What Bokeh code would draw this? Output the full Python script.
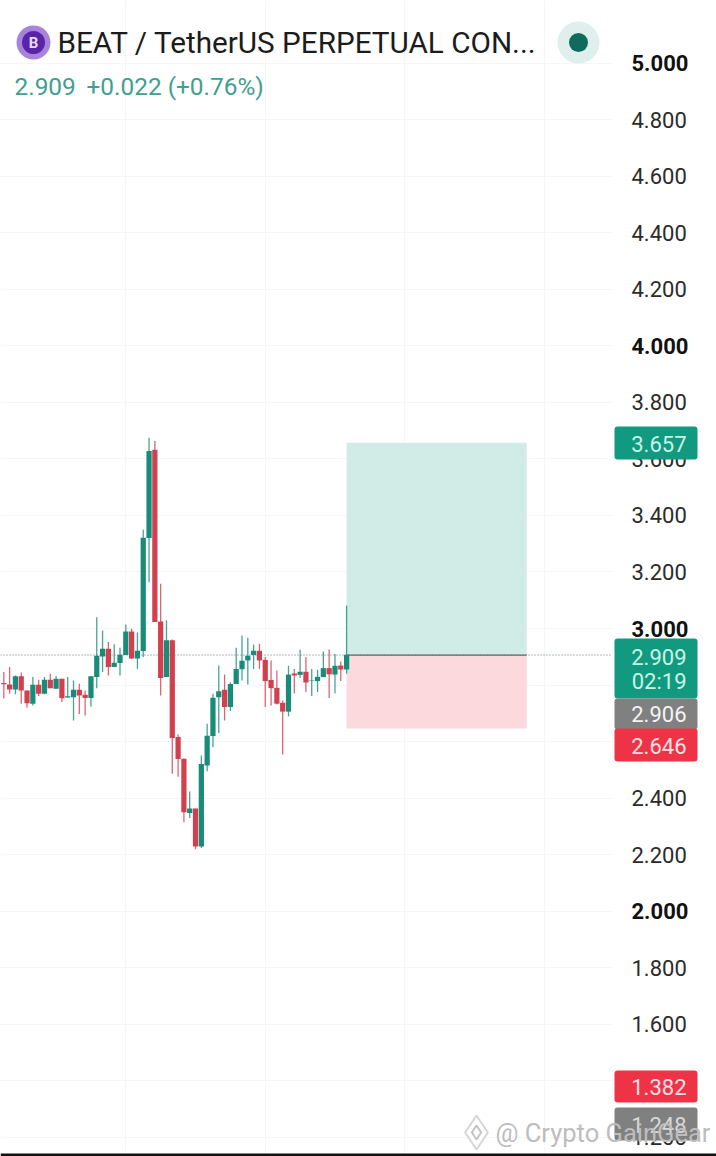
from bokeh.plotting import figure
from bokeh.embed import file_html
from bokeh.resources import INLINE
from bokeh.models import Range1d, LinearAxis, FixedTicker, Label, BoxAnnotation, Span

TITLE = "BEAT / TetherUS PERPETUAL CON..."
QUOTE_PRICE = "2.909"
QUOTE_CHANGE = "+0.022 (+0.76%)"

opens  = [2.807,2.802,2.784,2.831,2.781,2.734,2.801,2.769,2.819,2.787,2.822,2.756,2.757,2.783,2.766,2.754,2.828,2.901,2.928,2.864,2.878,2.906,2.989,2.894,2.920,3.320,3.632,3.025,2.828,2.958,
          2.616,2.539,2.347,2.363,2.229,2.515,2.620,2.757,2.783,2.722,2.804,2.856,2.887,2.906,2.921,2.889,2.818,2.790,2.737,2.706,2.841,2.836,2.847,2.814,2.814,2.828,2.860,2.837,2.869,2.855]
highs  = [2.846,2.864,2.834,2.844,2.781,2.828,2.819,2.828,2.840,2.832,2.822,2.828,2.816,2.805,2.781,2.831,3.040,2.993,2.952,2.944,2.932,3.014,2.999,2.986,3.349,3.675,3.663,3.158,3.029,2.961,
          2.625,2.539,2.423,2.363,2.551,2.663,2.769,2.869,2.837,2.810,2.932,2.975,2.967,2.943,2.946,2.899,2.887,2.851,2.745,2.868,2.857,2.925,2.899,2.857,2.854,2.919,2.926,2.910,2.883,3.081]
lows   = [2.752,2.769,2.767,2.734,2.720,2.728,2.761,2.767,2.789,2.787,2.740,2.755,2.675,2.698,2.692,2.724,2.789,2.846,2.834,2.864,2.834,2.906,2.892,2.858,2.899,3.164,3.023,2.763,2.828,2.486,
          2.476,2.315,2.330,2.219,2.224,2.495,2.580,2.630,2.675,2.708,2.804,2.816,2.802,2.857,2.857,2.722,2.728,2.731,2.554,2.689,2.771,2.825,2.775,2.761,2.775,2.828,2.754,2.771,2.814,2.840]
closes = [2.803,2.784,2.831,2.781,2.736,2.801,2.769,2.819,2.789,2.822,2.753,2.760,2.783,2.763,2.754,2.831,2.904,2.928,2.864,2.879,2.907,2.989,2.894,2.921,3.321,3.628,3.023,2.825,2.958,2.613,
          2.538,2.350,2.363,2.229,2.521,2.621,2.755,2.778,2.722,2.804,2.857,2.886,2.904,2.921,2.887,2.814,2.789,2.734,2.706,2.837,2.834,2.847,2.809,2.816,2.829,2.860,2.838,2.868,2.855,2.907]

tick_values = [1.2,1.4,1.6,1.8,2.0,2.2,2.4,2.6,2.8,3.0,3.2,3.4,3.6,3.8,4.0,4.2,4.4,4.6,4.8,5.0]
bold_ticks = [2.0,3.0,4.0,5.0]
time_grid = [21,45,69,93]

target = 3.657
entry = 2.906
stop = 2.646
last = 2.909
pos_start = 59
pos_end = 90

GREEN, RED = "#188c78", "#d2404f"
PX_PER_BAR, X0 = 5.81, 3.3
PX_PER_UNIT, Y3 = 282.7, 628.0
W, H, FRAME_W = 716, 1156, 612

def dy(py): return 3 - (py - Y3) / PX_PER_UNIT
def dx(px): return (px - X0) / PX_PER_BAR

p = figure(width=W, height=H, output_backend="svg", toolbar_location=None,
           x_range=Range1d(dx(0), dx(FRAME_W)), y_range=Range1d(dy(H), dy(0)),
           y_axis_location=None, min_border=0, min_border_right=W-FRAME_W,
           min_border_left=0, min_border_top=0, min_border_bottom=0,
           background_fill_color="white", border_fill_color="white", outline_line_color=None)
p.styles = {"position": "absolute", "left": "0px", "top": "0px"}
p.xaxis.visible = False

ax = LinearAxis(ticker=FixedTicker(ticks=tick_values))
ax.major_label_overrides = {t: ("" if t in bold_ticks else f"{t:.3f}") for t in tick_values}
ax.axis_line_color = None
ax.major_tick_line_color = None
ax.minor_tick_line_color = None
ax.major_tick_in = 0
ax.major_tick_out = 0
ax.major_label_standoff = 19
ax.major_label_text_font = "Roboto"
ax.major_label_text_font_size = "22px"
ax.major_label_text_color = "#2b2b2b"
p.add_layout(ax, "right")

p.xgrid.ticker = FixedTicker(ticks=time_grid)
p.xgrid.grid_line_color = "#f5f6f7"
p.ygrid.ticker = FixedTicker(ticks=tick_values)
p.ygrid.grid_line_color = "#f5f6f7"

# position tool
p.quad(left=[pos_start], right=[pos_end], top=[target], bottom=[entry], fill_color="#d1ebe6", line_color=None)
p.quad(left=[pos_start], right=[pos_end], top=[entry], bottom=[stop], fill_color="#fbd9dc", line_color=None)
p.segment(x0=[pos_start], x1=[pos_end], y0=[entry], y1=[entry], line_color="#5f6f6b", line_width=1.2)

# last price line
p.add_layout(Span(location=last - 0.003, dimension="width", line_color="#5f6f6b", line_width=1, line_dash="1 2"))

# candles
xs = list(range(len(opens)))
cols = [GREEN if c >= o else RED for o, c in zip(opens, closes)]
p.segment(x0=xs, x1=xs, y0=lows, y1=highs, line_color=cols, line_width=1.3, line_alpha=0.8)
p.vbar(x=xs, width=0.9, top=[max(a, b) for a, b in zip(opens, closes)],
       bottom=[min(a, b) for a, b in zip(opens, closes)], fill_color=cols, line_color=None)

# header decorations
p.scatter(x=[dx(578)], y=[dy(42)], size=42, fill_color="#dff0ec", line_color=None)
p.scatter(x=[dx(578)], y=[dy(42)], size=19, fill_color="#0f6b5b", line_color=None)
p.scatter(x=[dx(33)], y=[dy(42)], size=34, fill_color="#a883dc", line_color=None)
p.scatter(x=[dx(33)], y=[dy(42)], size=23, fill_color="#5a24a8", line_color=None)
# watermark logo
p.scatter(x=[dx(476)], y=[dy(1132)], marker="diamond", size=34, fill_color="#ffffff", line_color="#d6d6d6", line_width=2)
p.scatter(x=[dx(476)], y=[dy(1132)], marker="diamond", size=14, fill_color="#ffffff", line_color="#c4c4c4", line_width=2)

# transparent layer over the whole picture, for price badges that cover the axis
top = figure(width=W, height=H, output_backend="svg", toolbar_location=None,
             x_range=Range1d(0, W), y_range=Range1d(H, 0),
             x_axis_location=None, y_axis_location=None, min_border=0,
             background_fill_color=None, border_fill_color=None, outline_line_color=None)
top.styles = {"position": "absolute", "left": "0px", "top": "0px"}
top.grid.visible = False

def lab(text, x, y, size, color, align="left", style="normal", alpha=1.0):
    top.add_layout(Label(x=x, y=y, x_units="canvas", y_units="canvas", text=text, text_font="Roboto",
                         text_font_size=f"{size}px", text_color=color, text_align=align,
                         text_baseline="middle", text_font_style=style, text_alpha=alpha))

for t in bold_ticks:
    lab(f"{t:.3f}", 631, Y3 + (3 - t) * PX_PER_UNIT, 22, "#111111", style="bold")

def badge(y0, y1, color):
    top.add_layout(BoxAnnotation(left=614, right=697, top=y0, bottom=y1,
                                 left_units="canvas", right_units="canvas", top_units="canvas", bottom_units="canvas",
                                 fill_color=color, fill_alpha=1, line_color=None, border_radius=3))

badge(426, 459, "#129a80")
badge(638, 698, "#129a80")
badge(698, 729, "#808080")
badge(728, 761, "#ef3346")
badge(1070, 1102, "#ef3346")
badge(1107, 1140, "#808080")

lab("3.657", 686, 443, 22, "#c9f3e6", "right")
lab("2.909", 686, 656, 22, "#c9f3e6", "right")
lab("02:19", 686, 681, 22, "#c9f3e6", "right")
lab("2.906", 686, 713, 22, "#f4f4f4", "right")
lab("2.646", 686, 745, 22, "#fde0e3", "right")
lab("1.382", 686, 1086, 22, "#fde0e3", "right")
lab("1.248", 686, 1124, 22, "#d8d8d8", "right")

lab(TITLE, 57, 42, 29.7, "#1c1c1c")
lab(QUOTE_PRICE, 14, 86, 24.4, "#3fa08f")
lab(QUOTE_CHANGE, 86, 86, 24.4, "#3fa08f")
lab("B", 33, 42, 15, "#e9ddfa", "center", "bold")
lab("@ Crypto GainGear", 495, 1132, 25.5, "#bdbdbd")

top.add_layout(BoxAnnotation(left=0, right=W, top=1153, bottom=H,
                             left_units="canvas", right_units="canvas", top_units="canvas", bottom_units="canvas",
                             fill_color="#111111", fill_alpha=1, line_color=None))

open("out.html", "w").write(file_html([p, top], INLINE))
